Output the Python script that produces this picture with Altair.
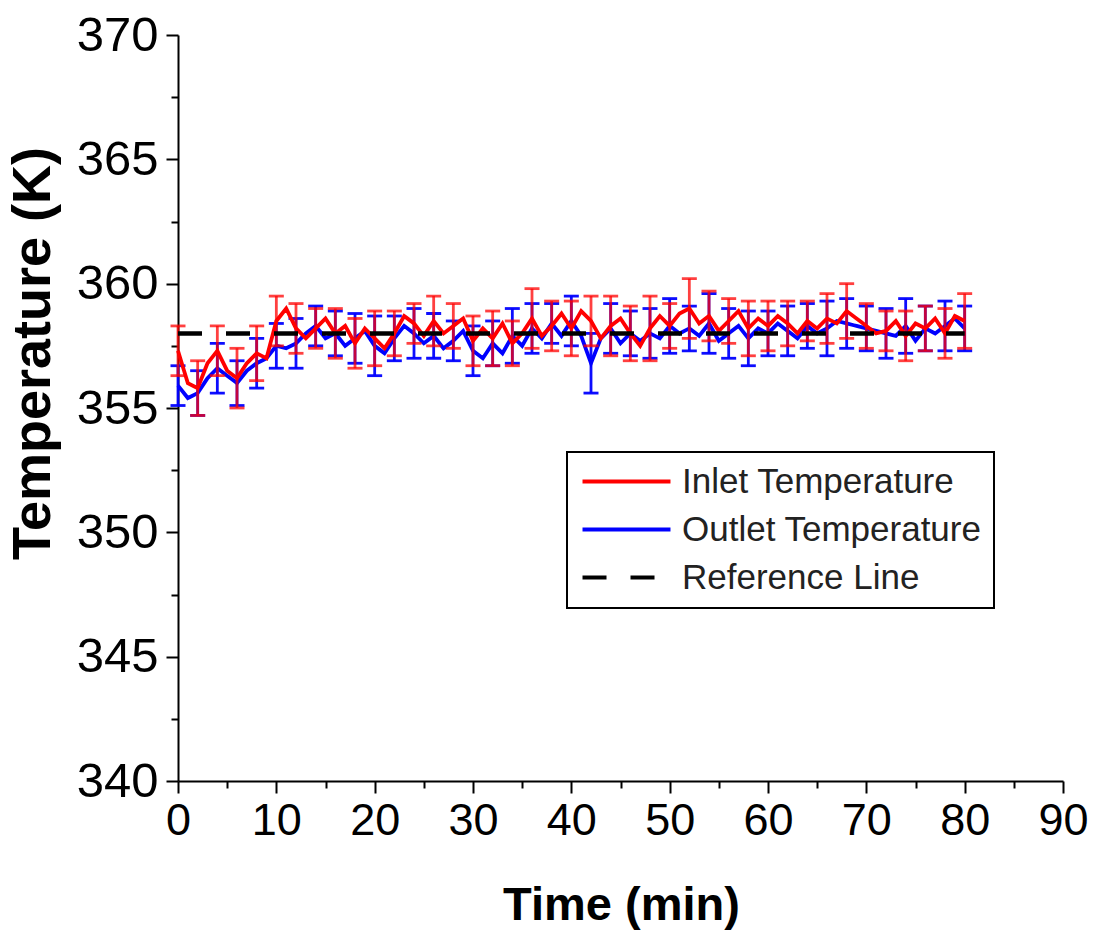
import altair as alt
import pandas as pd

# ---------------- data ----------------
TIME = list(range(0, 81))
INLET = [357.3, 356.0, 355.8, 356.8, 357.3, 356.5, 356.2, 356.8, 357.2, 357.0,
         358.5, 359.0, 358.2, 357.8, 358.2, 358.6, 358.0, 358.3, 357.6, 358.2,
         357.8, 357.4, 358.0, 358.7, 358.4, 357.9, 358.5, 358.0, 358.3, 358.6,
         357.7, 358.2, 357.8, 358.4, 357.6, 358.0, 358.6, 357.9, 358.3, 358.8,
         358.2, 358.9, 358.5, 357.8, 358.3, 358.6, 358.0, 357.5, 358.2, 358.7,
         358.3, 358.8, 359.0, 358.4, 358.7, 358.1, 358.5, 358.9, 358.2, 358.6,
         358.3, 358.7, 358.4, 358.0, 358.5, 358.2, 358.6, 358.4, 358.9, 358.6,
         358.3, 358.0, 358.1, 358.5, 357.9, 358.4, 358.2, 358.6, 358.0, 358.7,
         358.5]
OUTLET = [355.9, 355.4, 355.6, 356.2, 356.6, 356.3, 356.0, 356.5, 356.8, 357.0,
          357.5, 357.4, 357.6, 358.0, 358.3, 357.8, 358.0, 357.5, 357.8, 358.1,
          357.5, 357.2, 357.8, 358.3, 358.0, 357.6, 357.9, 357.4, 357.7, 358.1,
          357.3, 357.0, 357.6, 357.2, 357.9, 357.5, 358.2, 357.8, 358.4, 357.9,
          358.5, 357.9, 356.8, 357.8, 358.2, 357.6, 358.0, 357.7, 358.0, 357.8,
          358.3, 358.0, 358.2, 357.9, 358.4, 357.7, 358.0, 358.3, 357.8, 358.2,
          358.0, 358.4, 358.1, 357.8, 358.3, 358.0, 358.2, 358.5, 358.4, 358.3,
          358.2, 358.1, 358.0, 357.9, 358.3, 357.7, 358.2, 358.0, 358.3, 358.6,
          358.2]
ERR_TIME = list(range(0, 81, 2))
INLET_ERR = [1.0, 1.1, 1.0, 1.2, 1.1, 1.0, 1.0, 0.8, 1.0, 1.0, 1.1, 0.9, 0.8, 1.0,
             0.9, 1.0, 1.1, 0.9, 1.2, 1.0, 1.1, 1.0, 1.2, 1.1, 1.3, 0.9, 1.2, 1.0,
             0.9, 1.1, 1.0, 0.9, 0.8, 1.0, 1.1, 0.9, 0.8, 1.0, 0.9, 1.0, 1.1]
OUTLET_ERR = [0.8, 0.9, 1.0, 0.9, 1.0, 0.9, 1.0, 0.8, 0.9, 1.0, 1.2, 0.9, 1.0, 0.9,
              0.8, 1.0, 0.9, 1.1, 1.0, 0.8, 1.0, 1.2, 1.0, 0.9, 1.0, 1.1, 0.9, 1.2,
              1.0, 1.1, 0.9, 1.0, 0.9, 1.1, 1.0, 0.9, 1.0, 1.1, 0.9, 1.0, 0.9]
REF_TIME = [0, 80]
REF_VALUE = [358, 358]
SERIES = ["Inlet Temperature", "Outlet Temperature", "Reference Line"]
COLORS = ["#ff0000", "#0000ff", "#000000"]
DASHES = [[20, 0], [20, 0], [24, 24]]
X_AXIS_VALUES = [0, 5, 10, 15, 20, 25, 30, 35, 40, 45, 50, 55, 60, 65, 70, 75, 80, 85, 90]
Y_AXIS_VALUES = [340, 342.5, 345, 347.5, 350, 352.5, 355, 357.5, 360, 362.5, 365, 367.5, 370]

# ---------------- frames ----------------
inlet_df = pd.DataFrame({"Time": TIME, "Value": INLET, "Series": SERIES[0]})
outlet_df = pd.DataFrame({"Time": TIME, "Value": OUTLET, "Series": SERIES[1]})
ref_df = pd.DataFrame({"Time": REF_TIME, "Value": REF_VALUE, "Series": SERIES[2]})

inlet_map = dict(zip(TIME, INLET))
outlet_map = dict(zip(TIME, OUTLET))
inlet_err_df = pd.DataFrame({
    "Time": ERR_TIME,
    "lo": [inlet_map[t] - e for t, e in zip(ERR_TIME, INLET_ERR)],
    "hi": [inlet_map[t] + e for t, e in zip(ERR_TIME, INLET_ERR)],
})
outlet_err_df = pd.DataFrame({
    "Time": ERR_TIME,
    "lo": [outlet_map[t] - e for t, e in zip(ERR_TIME, OUTLET_ERR)],
    "hi": [outlet_map[t] + e for t, e in zip(ERR_TIME, OUTLET_ERR)],
})

FONT = "Liberation Sans"

x_scale = alt.Scale(domain=[0, 90], nice=False, zero=False)
y_scale = alt.Scale(domain=[340, 370], nice=False, zero=False)

x_axis = alt.Axis(
    values=X_AXIS_VALUES,
    labelExpr="datum.value % 10 === 0 ? datum.label : ''",
    title="Time (min)",
    grid=False,
    domainColor="black", domainWidth=2,
    tickColor="black", tickWidth=2, tickSize=12,
    tickDash={"condition": {"test": "datum.value % 10 !== 0", "value": [7, 30]}, "value": [20, 0]},
    labelFont=FONT, labelFontSize=45, labelColor="black", labelPadding=5,
    labelFlush=False, labelOverlap=False,
    titleFont=FONT, titleFontSize=47, titleFontWeight="bold", titleColor="black",
    titleX=443, titleY=124, titleBaseline="middle", titleAlign="center",
)
y_axis = alt.Axis(
    values=Y_AXIS_VALUES,
    labelExpr="datum.value % 5 === 0 ? datum.label : ''",
    title="Temperature (K)",
    grid=False,
    domainColor="black", domainWidth=2,
    tickColor="black", tickWidth=2, tickSize=12,
    tickDash={"condition": {"test": "datum.value % 5 !== 0", "value": [7, 30]}, "value": [20, 0]},
    labelFont=FONT, labelFontSize=49, labelColor="black", labelPadding=8,
    labelFlush=False, labelOverlap=False,
    titleFont=FONT, titleFontSize=54, titleFontWeight="bold", titleColor="black",
    titleX=-145, titleY=318, titleBaseline="middle", titleAlign="center", titleAngle=270,
)

legend = alt.Legend(
    orient="none", legendX=389, legendY=417,
    symbolType="M-3,0H3", symbolSize=860, symbolStrokeWidth=4,
    symbolOffset=30,
    labelFont=FONT, labelFontSize=35, labelColor="#222222", labelLimit=500,
    labelOffset=38, rowPadding=12, padding=12, fillColor="white",
)

color_enc = alt.Color("Series:N", scale=alt.Scale(domain=SERIES, range=COLORS),
                      legend=legend, title=None)
dash_enc = alt.StrokeDash("Series:N", scale=alt.Scale(domain=SERIES, range=DASHES),
                          legend=legend, title=None)


def line_layer(df, width):
    return alt.Chart(df).mark_line(strokeWidth=width).encode(
        x=alt.X("Time:Q", scale=x_scale, axis=x_axis),
        y=alt.Y("Value:Q", scale=y_scale, axis=y_axis),
        color=color_enc,
        strokeDash=dash_enc,
    )


def err_layers(df, color, opacity):
    base = alt.Chart(df)
    rule = base.mark_rule(strokeWidth=2.8, opacity=opacity).encode(
        x=alt.X("Time:Q", scale=x_scale, axis=x_axis),
        y=alt.Y("lo:Q", scale=y_scale, axis=y_axis),
        y2="hi:Q",
        color=alt.value(color),
    )
    cap_lo = base.mark_tick(orient="horizontal", size=15, thickness=2.8, opacity=opacity).encode(
        x=alt.X("Time:Q", scale=x_scale, axis=x_axis),
        y=alt.Y("lo:Q", scale=y_scale, axis=y_axis),
        color=alt.value(color),
    )
    cap_hi = base.mark_tick(orient="horizontal", size=15, thickness=2.8, opacity=opacity).encode(
        x=alt.X("Time:Q", scale=x_scale, axis=x_axis),
        y=alt.Y("hi:Q", scale=y_scale, axis=y_axis),
        color=alt.value(color),
    )
    return [rule, cap_lo, cap_hi]


layers = []
layers += err_layers(outlet_err_df, "#0000ff", 0.95)
layers.append(line_layer(outlet_df, 3.8))
layers += err_layers(inlet_err_df, "#ff0000", 0.75)
layers.append(line_layer(inlet_df, 3.8))
layers.append(line_layer(ref_df, 4.5))

chart = alt.layer(*layers).properties(
    width=885, height=746,
    padding={"left": 178, "top": 35, "right": 37, "bottom": 150},
    autosize=alt.AutoSizeParams(type="none"),
    background="white",
).configure_view(
    stroke=None
).configure_legend(
    strokeColor="black", strokeWidth=2,
)

chart.save("out.html", embed_options={"renderer": "svg", "actions": False})
